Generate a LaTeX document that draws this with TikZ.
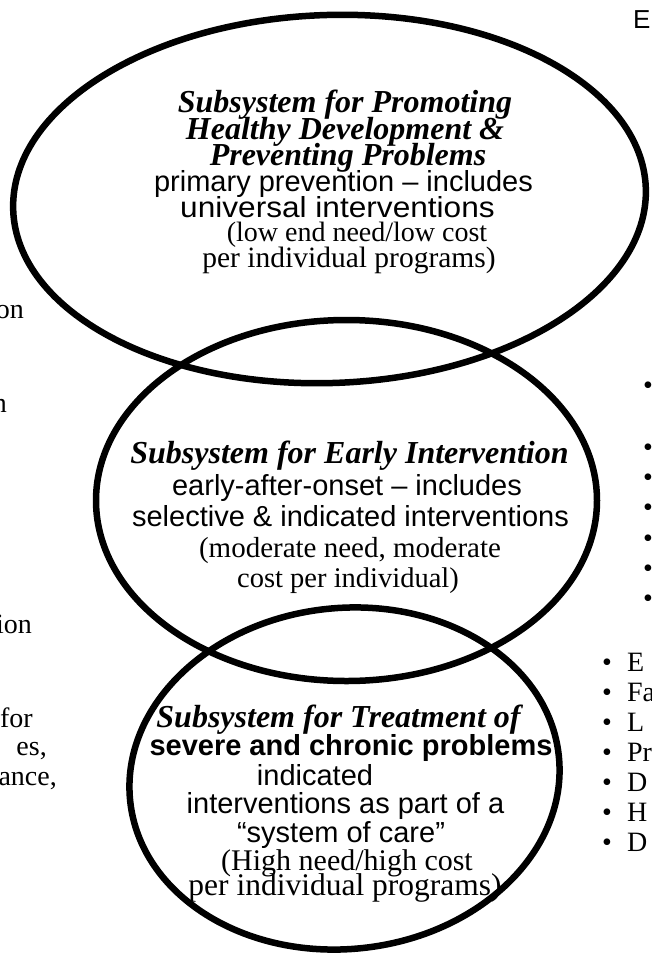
\documentclass[tikz,border=0pt]{standalone}
\usepackage{fontspec}
\setmainfont{Liberation Serif}
\setsansfont{Liberation Sans}
\usetikzlibrary{shapes.geometric}
\tikzset{
  ell/.style={draw, shape=ellipse, inner sep=0pt, outer sep=0pt, line width=6.5pt},
  ttl/.style={anchor=base, inner sep=0pt, font=\fontsize{32}{32}\selectfont\bfseries\itshape},
  sns/.style={anchor=base, inner sep=0pt, font=\sffamily\fontsize{29}{29}\selectfont},
  snsb/.style={anchor=base, inner sep=0pt, font=\sffamily\bfseries\fontsize{29}{29}\selectfont},
  srf/.style={anchor=base, inner sep=0pt, font=\fontsize{29}{29}\selectfont},
  frag/.style={anchor=base east, inner sep=0pt, font=\fontsize{28}{28}\selectfont},
  blt/.style={anchor=base, inner sep=0pt, font=\fontsize{28}{28}\selectfont},
  lst/.style={anchor=base west, inner sep=0pt, font=\fontsize{28}{28}\selectfont},
}
\begin{document}
\begin{tikzpicture}[x=1pt,y=-1pt]
\useasboundingbox (0,0) rectangle (652,962);
\clip (0,0) rectangle (652,962);
\fill[white] (0,0) rectangle (652,962);

% ellipses
\node[ell, minimum width=633pt, minimum height=368pt, rotate=2] (e1) at (329.5,199) {};
\node[ell, minimum width=501pt, minimum height=361pt] (e2) at (346.5,500.5) {};
\node[ell, minimum width=431pt, minimum height=341pt, rotate=6] (e3) at (344.5,778.5) {};

% top ellipse text
\node[ttl] (a1) at (345,112) {Subsystem for Promoting};
\node[ttl] (a2) at (345,139) {Healthy Development \&};
\node[ttl] (a3) at (348,165) {Preventing Problems};
\node[sns] (a4) at (343.5,191) {primary prevention – includes};
\node[sns, xscale=1.09, transform shape] (a5) at (337.5,217) {universal interventions};
\node[srf, font=\fontsize{28}{28}\selectfont] (a6) at (357,241) {(low end need/low cost};
\node[srf, font=\fontsize{29.5}{29.5}\selectfont] (a7) at (349,267) {per individual programs)};

% middle ellipse text
\node[ttl] (b1) at (349.5,463) {Subsystem for Early Intervention};
\node[sns] (b2) at (347,495) {early-after-onset – includes};
\node[sns] (b3) at (350.5,526) {selective \& indicated interventions};
\node[srf] (b4) at (350,557) {(moderate need, moderate};
\node[srf, font=\fontsize{28.5}{28.5}\selectfont] (b5) at (348,587) {cost per individual)};

% bottom ellipse text
\node[ttl] (c1) at (338.5,727) {Subsystem for Treatment of};
\node[snsb] (c2) at (351,755) {severe and chronic problems};
\node[sns] (c3) at (315,785) {indicated};
\node[sns] (c4) at (345.5,813) {interventions as part of a};
\node[sns] (c5) at (341,842) {“system of care”};
\node[srf, font=\fontsize{30}{30}\selectfont] (c6) at (347,870) {(High need/high cost};
\node[srf, font=\fontsize{31.5}{31.5}\selectfont] (c7) at (345,895) {per individual programs)};

% clipped fragments on the left
\node[frag] (l1) at (24,318) {on};
\node[frag] (l2) at (7,412) {n};
\node[frag] (l3) at (32,633) {ion};
\node[frag] (l4) at (33,727) {for};
\node[frag] (l5) at (47,755) {es,};
\node[frag] (l6) at (57,785) {ance,};

% clipped fragments on the right
\node[anchor=base west, inner sep=0pt, font=\sffamily\fontsize{26}{26}\selectfont] (r0) at (633,28) {E};
\foreach \yy [count=\i] in {385,447,477,507,538,568,598}{
  \node[blt] (u\i) at (648,\yy+9.5) {•};
}
\foreach \yy/\tx [count=\i] in {662/E,692/Fa,722/L,752/Pr,782/D,812/H,842/D}{
  \node[lst] (v\i) at (602,\yy+9.5) {•\hspace{15.2pt}\tx};
}
\end{tikzpicture}
\end{document}
